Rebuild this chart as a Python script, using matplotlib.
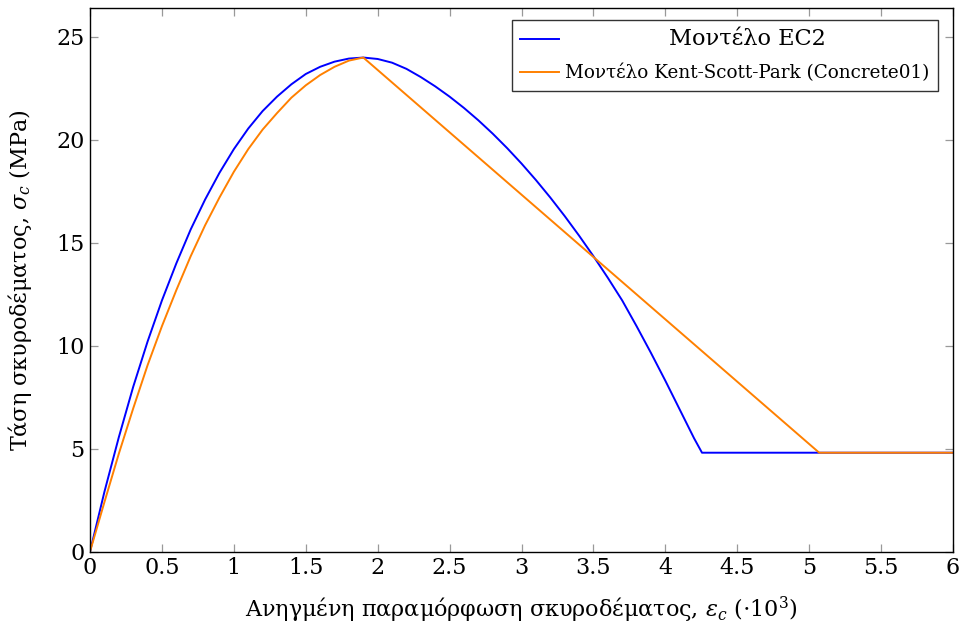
import matplotlib
matplotlib.use('Agg')
import matplotlib.pyplot as plt

plt.rcParams['font.family'] = ['DejaVu Serif']
plt.rcParams['mathtext.fontset'] = 'dejavuserif'

# EC2 stress-strain curve (strain x1e3, stress in MPa)
ec2_strain = [0, 0.1, 0.2, 0.3, 0.4, 0.5, 0.6, 0.7, 0.8, 0.9, 1.0, 1.1, 1.2, 1.3,
              1.4, 1.5, 1.6, 1.7, 1.8, 1.9, 2.0, 2.1, 2.2, 2.3, 2.4, 2.5, 2.6, 2.7,
              2.8, 2.9, 3.0, 3.1, 3.2, 3.3, 3.4, 3.5, 3.6, 3.7, 3.8, 3.9, 4.0, 4.1,
              4.2, 4.255, 6.0]
ec2_stress = [0, 2.9, 5.55, 8.0, 10.2, 12.2, 14.0, 15.65, 17.1, 18.4, 19.55,
              20.55, 21.4, 22.1, 22.7, 23.2, 23.55, 23.8, 23.95, 24.0, 23.93,
              23.75, 23.45, 23.05, 22.6, 22.1, 21.55, 20.95, 20.3, 19.6, 18.85,
              18.05, 17.2, 16.3, 15.35, 14.35, 13.3, 12.2, 10.95, 9.65, 8.3, 6.9,
              5.5, 4.8, 4.8]

# Kent-Scott-Park (Concrete01) curve
ksp_strain = [0, 0.1, 0.2, 0.3, 0.4, 0.5, 0.6, 0.7, 0.8, 0.9, 1.0, 1.1, 1.2,
              1.3, 1.4, 1.5, 1.6, 1.7, 1.8, 1.9, 5.07, 6.0]
ksp_stress = [0, 2.4, 4.75, 6.95, 9.05, 10.95, 12.7, 14.35, 15.85, 17.2, 18.45,
              19.55, 20.5, 21.3, 22.05, 22.65, 23.15, 23.55, 23.85, 24.0, 4.8, 4.8]

x_ticks = [0, 0.5, 1, 1.5, 2, 2.5, 3, 3.5, 4, 4.5, 5, 5.5, 6]
x_tick_labels = ['0', '0.5', '1', '1.5', '2', '2.5', '3', '3.5', '4', '4.5', '5', '5.5', '6']
y_ticks = [0, 5, 10, 15, 20, 25]

fig = plt.figure(figsize=(9.62, 6.26), dpi=100)
ax = fig.add_axes([0.0936, 0.1190, 0.897, 0.868])

ax.plot(ec2_strain, ec2_stress, color='#0000ff', lw=1.4, label='Μοντέλο EC2')
ax.plot(ksp_strain, ksp_stress, color='#ff8000', lw=1.4,
        label='Μοντέλο Kent-Scott-Park (Concrete01)')

ax.set_xlim(0, 6)
ax.set_ylim(0, 26.4)
ax.set_xticks(x_ticks)
ax.set_xticklabels(x_tick_labels)
ax.set_yticks(y_ticks)
ax.tick_params(direction='in', top=True, right=True, length=6, width=0.9,
               color='#999999', labelsize=16, pad=4)
for s in ax.spines.values():
    s.set_linewidth(1.0)

ax.set_xlabel(r'Ανηγμένη παραμόρφωση σκυροδέματος, $\varepsilon_c$ ($\cdot 10^3$)',
              fontsize=16, labelpad=11)
ax.set_ylabel(r'Τάση σκυροδέματος, $\sigma_c$ (MPa)', fontsize=16, labelpad=16)

leg = ax.legend(loc='upper right', bbox_to_anchor=(0.9826, 0.978),
                borderaxespad=0, fontsize=13.2,
                frameon=True, fancybox=False, edgecolor='black',
                handlelength=2.1, handletextpad=0.35, borderpad=0.45,
                labelspacing=0.75)
leg.get_frame().set_linewidth(1.0)
leg.texts[0].set_fontsize(16.2)

# center the first legend label over the second one
fig.canvas.draw()
r = fig.canvas.get_renderer()
w0 = leg.texts[0].get_window_extent(r).width
w1 = leg.texts[1].get_window_extent(r).width
leg.texts[0].set_x((w1 - w0) / 2)

fig.savefig('out.png', dpi=100)
